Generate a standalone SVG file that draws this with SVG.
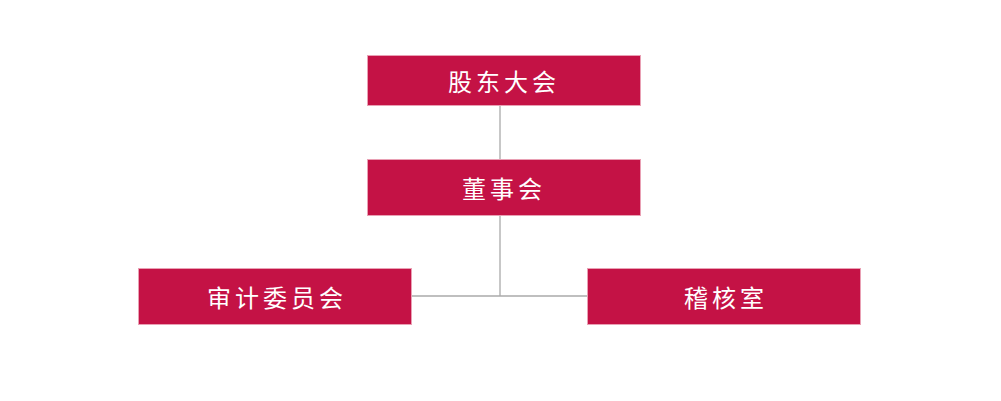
<svg xmlns="http://www.w3.org/2000/svg" width="1001" height="401" viewBox="0 0 1001 401">
<style>
.box{fill:#C41245;stroke:#e9a0b4;stroke-width:1}
.t{font-family:"Noto Sans CJK SC",sans-serif;font-size:24px;fill:#fff;text-anchor:middle;dominant-baseline:central;letter-spacing:4px}
.c{stroke:#aaaaaa;stroke-width:1.3;fill:none}
</style>
<rect width="1001" height="401" fill="#fff"/>
<g id="connectors">
<path class="c" d="M500 106V159M500 216V296M412 296H587"/>
</g>
<g id="n1"><rect class="box" x="367.5" y="55.5" width="273" height="50"/><text class="t" x="504" y="80">股东大会</text></g>
<g id="n2"><rect class="box" x="367.5" y="159.5" width="273" height="56"/><text class="t" x="504" y="187">董事会</text></g>
<g id="n3"><rect class="box" x="138.5" y="268.5" width="273" height="56"/><text class="t" x="277" y="296">审计委员会</text></g>
<g id="n4"><rect class="box" x="587.5" y="268.5" width="273" height="56"/><text class="t" x="726" y="296">稽核室</text></g>
</svg>
